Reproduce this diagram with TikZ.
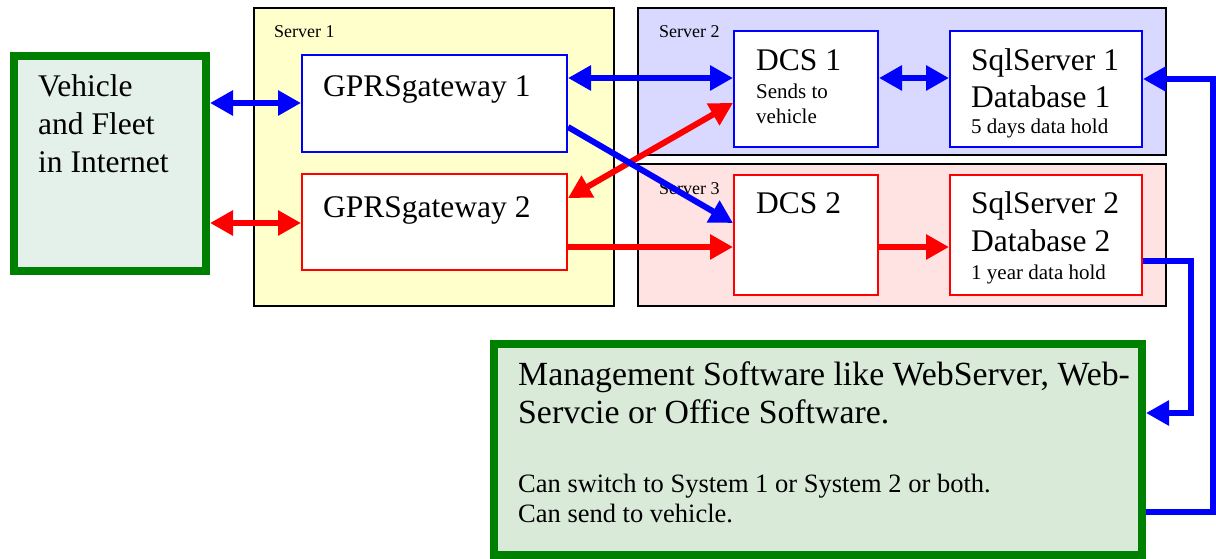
\documentclass[tikz,border=0pt]{standalone}
\usepackage{fontspec}
\setmainfont{Liberation Serif}
\usetikzlibrary{arrows.meta}
\definecolor{cblue}{RGB}{0,0,255}
\definecolor{cred}{RGB}{255,0,0}
\definecolor{cgreen}{RGB}{0,128,0}
\definecolor{fyellow}{RGB}{255,255,204}
\definecolor{flav}{RGB}{217,217,255}
\definecolor{fpink}{RGB}{255,227,227}
\definecolor{fveh}{RGB}{228,241,234}
\definecolor{fmgmt}{RGB}{217,234,217}
\tikzset{
  serverbox/.style={draw=black, line width=1.5pt, inner sep=0pt},
  bluebox/.style={draw=cblue, fill=white, line width=2pt, inner sep=0pt},
  redbox/.style={draw=cred, fill=white, line width=2pt, inner sep=0pt},
  greenbox/.style={draw=cgreen, line width=8pt, inner sep=0pt},
  txt/.style={inner sep=0pt, anchor=base west},
  bigtxt/.style={txt, font=\fontsize{31.5}{36}\selectfont},
  mgtxt/.style={txt, font=\fontsize{33.8}{38}\selectfont},
  medtxt/.style={txt, font=\fontsize{26.5}{30}\selectfont},
  smalltxt/.style={txt, font=\fontsize{21}{24}\selectfont},
  srvtxt/.style={txt, font=\fontsize{18}{21}\selectfont},
  tip/.tip={Triangle[length=23pt,width=24pt]},
  arr/.style={line width=6pt, -tip},
  barr/.style={line width=6pt, tip-tip},
}
\begin{document}
\begin{tikzpicture}[x=1pt,y=-1pt]
\useasboundingbox (0,0) rectangle (1216,559);
% servers
\node[serverbox, fill=fyellow, minimum width=360pt, minimum height=298pt] (srv1) at (434,157) {};
\node[serverbox, fill=flav, minimum width=528pt, minimum height=147pt] (srv2) at (902,81.5) {};
\node[serverbox, fill=fpink, minimum width=528pt, minimum height=142pt] (srv3) at (902,235) {};
\node[srvtxt] (l1) at (274,38) {Server 1};
\node[srvtxt] (l2) at (659,38) {Server 2};
\node[srvtxt] (l3) at (659,194) {Server 3};
% outer green boxes
\node[greenbox, fill=fveh, minimum width=192pt, minimum height=215pt] (veh) at (110,163.5) {};
\node[greenbox, fill=fmgmt, minimum width=648pt, minimum height=211pt] (mgmt) at (818,449.5) {};
% inner boxes
\node[bluebox, minimum width=265pt, minimum height=97pt] (g1) at (434.5,103.5) {};
\node[redbox, minimum width=265pt, minimum height=96pt] (g2) at (434.5,222) {};
\node[bluebox, minimum width=144pt, minimum height=116pt] (dcs1) at (806,89) {};
\node[bluebox, minimum width=192pt, minimum height=116pt] (sql1) at (1046,89) {};
\node[redbox, minimum width=144pt, minimum height=120pt] (dcs2) at (806,235) {};
\node[redbox, minimum width=192pt, minimum height=120pt] (sql2) at (1046,235) {};
% texts
\node[bigtxt] (v1) at (38,97) {Vehicle};
\node[bigtxt] (v2) at (38,135) {and Fleet};
\node[bigtxt] (v3) at (38,173) {in Internet};
\node[bigtxt] (tg1) at (323,97) {GPRSgateway 1};
\node[bigtxt] (tg2) at (323,217) {GPRSgateway 2};
\node[bigtxt] (td1) at (756,71) {DCS 1};
\node[smalltxt] (td1a) at (756,99) {Sends to};
\node[smalltxt] (td1b) at (756,124) {vehicle};
\node[bigtxt] (ts1) at (971,71) {SqlServer 1};
\node[bigtxt] (ts1a) at (971,108) {Database 1};
\node[smalltxt] (ts1b) at (971,134) {5 days data hold};
\node[bigtxt] (td2) at (756,214) {DCS 2};
\node[bigtxt] (ts2) at (971,214) {SqlServer 2};
\node[bigtxt] (ts2a) at (971,251) {Database 2};
\node[smalltxt] (ts2b) at (971,279) {1 year data hold};
\node[mgtxt] (m1) at (518,385) {Management Software like WebServer, Web-};
\node[mgtxt] (m2) at (518,423) {Servcie or Office Software.};
\node[medtxt] (m3) at (518,492) {Can switch to System 1 or System 2 or both.};
\node[medtxt] (m4) at (518,522) {Can send to vehicle.};
% red connectors
\draw[barr, cred] (veh.east |- 0,223) -- (g2.west |- 0,223);
\draw[barr, cred] (g2.east |- 0,198) -- (dcs1.west |- 0,103);
\draw[arr, cred] (g2.east |- 0,247) -- (dcs2.west |- 0,247);
\draw[arr, cred] (dcs2.east |- 0,247) -- (sql2.west |- 0,247);
% blue connectors
\draw[barr, cblue] (veh.east |- 0,103) -- (g1.west |- 0,103);
\draw[barr, cblue] (g1.east |- 0,78) -- (dcs1.west |- 0,78);
\draw[arr, cblue] (g1.east |- 0,127) -- (dcs2.west |- 0,223);
\draw[barr, cblue] (dcs1.east |- 0,78) -- (sql1.west |- 0,78);
\draw[arr, cblue] (mgmt.east |- 0,512) -- ++(67,0) |- (sql1.east |- 0,79);
\draw[arr, cblue] (sql2.east |- 0,261) -- ++(48,0) |- (mgmt.east |- 0,413);
\end{tikzpicture}
\end{document}
